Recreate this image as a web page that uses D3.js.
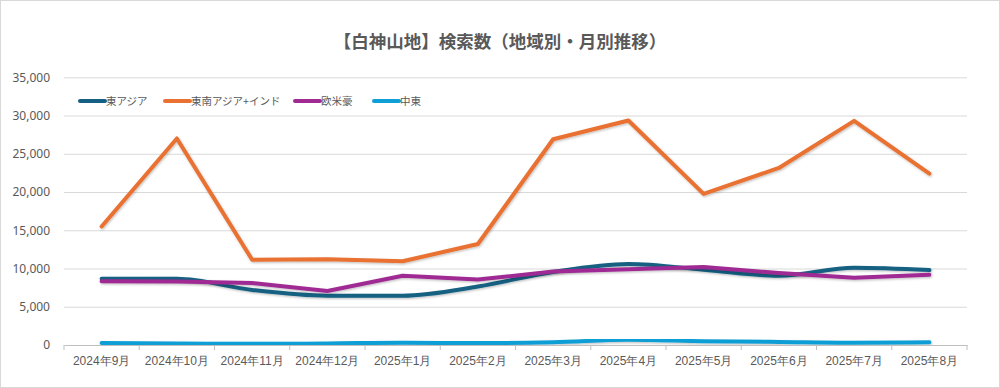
<!DOCTYPE html>
<html lang="ja">
<head>
    <meta charset="UTF-8">
    <title>白神山地 検索数</title>
    <script src="https://d3js.org/d3.v7.min.js"></script>
    <style>
        body {
            margin: 0;
            padding: 0;
            background: #fff;
            font-family: "Noto Sans CJK JP", "Noto Sans", sans-serif;
            overflow: hidden;
        }
        .grid line { stroke: #d9d9d9; stroke-width: 1; }
        .tick text { fill: #595959; }
    </style>
</head>
<body>
    <svg id="chart" width="1000" height="388"></svg>

    <script>
        // 月ラベル
        const months = ["2024年9月", "2024年10月", "2024年11月", "2024年12月", "2025年1月", "2025年2月",
                        "2025年3月", "2025年4月", "2025年5月", "2025年6月", "2025年7月", "2025年8月"];

        // 地域ごとの検索数
        const eastAsia      = [8650, 8650, 7200, 6450, 6450, 7650, 9550, 10600, 9850, 9050, 10100, 9800];
        const seAsiaIndia   = [15500, 27000, 11150, 11200, 10950, 13200, 26900, 29350, 19750, 23150, 29300, 22400];
        const westernAus    = [8350, 8300, 8100, 7050, 9050, 8550, 9600, 9900, 10200, 9400, 8800, 9200];
        const middleEast    = [250, 200, 150, 200, 300, 250, 350, 700, 500, 400, 300, 350];

        const yTicks = [0, 5000, 10000, 15000, 20000, 25000, 30000, 35000];

        const series = [
            { name: "東アジア", values: eastAsia, color: "#156082", curve: d3.curveMonotoneX },
            { name: "東南アジア+インド", values: seAsiaIndia, color: "#E97132", curve: d3.curveLinear },
            { name: "欧米豪", values: westernAus, color: "#A02B93", curve: d3.curveLinear },
            { name: "中東", values: middleEast, color: "#0F9ED5", curve: d3.curveMonotoneX }
        ];

        const svg = d3.select("#chart");

        // 外枠
        svg.append("rect")
           .attr("x", 0.5).attr("y", 0.5)
           .attr("width", 999).attr("height", 387)
           .attr("fill", "none")
           .attr("stroke", "#d9d9d9");

        // 影
        const defs = svg.append("defs");
        defs.append("filter").attr("id", "shadow")
            .attr("x", "-5%").attr("y", "-5%").attr("width", "110%").attr("height", "120%")
            .append("feDropShadow")
            .attr("dx", 0.8).attr("dy", 1.2).attr("stdDeviation", 0.8)
            .attr("flood-color", "#000").attr("flood-opacity", 0.25);

        const x = d3.scaleBand().domain(months).range([64, 967]);
        const y = d3.scaleLinear().domain([0, 35000]).range([345, 77.3]);

        // タイトル
        svg.append("text")
           .attr("x", 500).attr("y", 48)
           .attr("text-anchor", "middle")
           .attr("font-size", 17.5)
           .attr("font-weight", "bold")
           .attr("fill", "#595959")
           .text("【白神山地】検索数（地域別・月別推移）");

        // 横グリッドとY軸ラベル
        const yAxis = svg.append("g")
           .attr("class", "grid")
           .attr("transform", "translate(64,0)")
           .call(d3.axisLeft(y).tickValues(yTicks).tickSize(-903).tickPadding(14)
                   .tickFormat(d3.format(",")));
        yAxis.select(".domain").remove();
        yAxis.selectAll(".tick text").attr("font-size", 12).attr("font-family", "'Noto Sans', sans-serif");
        yAxis.selectAll(".tick line").filter(d => d === 0).remove();

        // X軸
        const xAxis = svg.append("g")
           .attr("transform", "translate(0,345)")
           .call(d3.axisBottom(x).tickSize(0).tickPadding(11));
        xAxis.select(".domain").attr("stroke", "#bfbfbf");
        xAxis.selectAll(".tick text").attr("font-size", 12);

        // バンド境界の目盛り
        svg.append("g").selectAll("line")
           .data(months.concat(["end"]))
           .join("line")
           .attr("x1", (d, i) => 64 + i * x.step())
           .attr("x2", (d, i) => 64 + i * x.step())
           .attr("y1", 345).attr("y2", 350)
           .attr("stroke", "#bfbfbf");

        // 折れ線
        series.forEach(s => {
            const line = d3.line()
                .x((d, i) => x(months[i]) + x.bandwidth() / 2)
                .y(d => y(d))
                .curve(s.curve);
            svg.append("path")
               .datum(s.values)
               .attr("fill", "none")
               .attr("stroke", s.color)
               .attr("stroke-width", 4)
               .attr("stroke-linejoin", "round")
               .attr("stroke-linecap", "round")
               .attr("filter", "url(#shadow)")
               .attr("d", line);
        });

        // 凡例
        const legendX = [80, 165, 295, 374];
        const legend = svg.append("g").selectAll("g")
           .data(series)
           .join("g")
           .attr("transform", (d, i) => `translate(${legendX[i]},101)`);
        legend.append("line")
           .attr("x1", 0).attr("x2", 25)
           .attr("stroke", d => d.color)
           .attr("stroke-width", 4)
           .attr("stroke-linecap", "round");
        legend.append("text")
           .attr("x", 26).attr("y", 4)
           .attr("font-size", 10.5)
           .attr("fill", "#595959")
           .text(d => d.name);
    </script>
</body>
</html>
